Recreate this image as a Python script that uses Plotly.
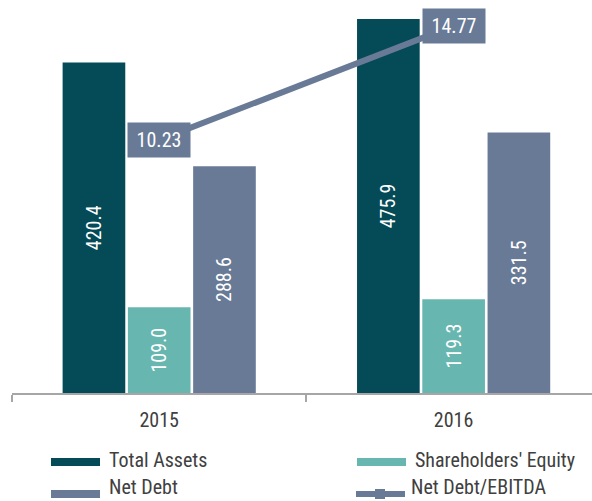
import plotly.graph_objects as go

years = ["2015", "2016"]
total_assets = [420.4, 475.9]
shareholders_equity = [109.0, 119.3]
net_debt = [288.6, 331.5]
net_debt_ebitda = [10.23, 14.77]
legend_labels = ["Total Assets", "Shareholders' Equity", "Net Debt", "Net Debt/EBITDA"]

C_TA = "#054a57"
C_EQ = "#67b6b0"
C_ND = "#687a96"
FONT = "Roboto Condensed, Arial Narrow, sans-serif"
TXT = "#404040"

W, H = 592, 501
L, R, T, B = 12, 0, 0, 108
PW, PH = W - L - R, H - T - B

def px(x):
    return (x - L) / PW

def py(y):
    return (H - B - y) / PH

fig = go.Figure()

def bar(name, vals, color):
    fig.add_trace(go.Bar(
        x=years, y=vals, name=name, marker=dict(color=color, line=dict(width=0)),
        text=[f"{v:.1f}" for v in vals], textposition="inside", textangle=-90,
        insidetextanchor="middle", textfont=dict(color="white", size=20, family=FONT),
        showlegend=False, yaxis="y", hoverinfo="skip"))

bar(legend_labels[0], total_assets, C_TA)
bar(legend_labels[1], shareholders_equity, C_EQ)
bar(legend_labels[2], net_debt, C_ND)

fig.add_trace(go.Scatter(
    x=years, y=net_debt_ebitda, name=legend_labels[3], mode="lines",
    line=dict(color=C_ND, width=6), yaxis="y2", showlegend=False, hoverinfo="skip"))

for i, v in enumerate(net_debt_ebitda):
    fig.add_annotation(x=i, y=v, xref="x", yref="y2", text=f"{v:.2f}",
                       showarrow=False, bgcolor=C_ND, width=60, height=32,
                       font=dict(color="white", size=20, family=FONT))

# manual legend (pixel positions converted to paper coords)
shapes = []
entries = [
    (legend_labels[0], C_TA, 51, 462, 460, "bar"),
    (legend_labels[1], C_EQ, 357, 462, 460, "bar"),
    (legend_labels[2], C_ND, 51, 494, 487, "bar"),
    (legend_labels[3], C_ND, 353, 494, 487, "line"),
]
for name, color, x0, yc, ty, kind in entries:
    if kind == "bar":
        shapes.append(dict(type="rect", xref="paper", yref="paper",
                           x0=px(x0), x1=px(x0 + 49), y0=py(yc - 4), y1=py(yc + 4),
                           fillcolor=color, line=dict(width=0)))
    else:
        shapes.append(dict(type="line", xref="paper", yref="paper",
                           x0=px(x0 + 3), x1=px(x0 + 52), y0=py(yc), y1=py(yc),
                           line=dict(color=color, width=6)))
        shapes.append(dict(type="rect", xref="paper", yref="paper",
                           x0=px(x0 + 22), x1=px(x0 + 32), y0=py(yc - 5), y1=py(yc + 5),
                           fillcolor=color, line=dict(width=0)))
    fig.add_annotation(x=px(x0 + 56), y=py(ty), xref="paper", yref="paper", text=name,
                       showarrow=False, xanchor="left", yanchor="middle",
                       font=dict(size=20, color=TXT, family=FONT))

fig.update_layout(
    width=W, height=H,
    margin=dict(l=L, r=R, t=T, b=B, autoexpand=False),
    paper_bgcolor="white", plot_bgcolor="white",
    barmode="group", bargap=0.335, bargroupgap=0.04,
    font=dict(family=FONT, size=20, color=TXT),
    showlegend=False, hovermode=False,
    shapes=shapes,
    xaxis=dict(type="category", range=[-0.5, 1.47], showline=True, linecolor="#a6a6a6",
               linewidth=1.5, ticks="outside", tickson="boundaries", ticklen=7,
               tickcolor="#a6a6a6", tickwidth=1.5, showgrid=False, ticklabelstandoff=8,
               tickfont=dict(size=20, color=TXT, family=FONT)),
    yaxis=dict(range=[0, 500], visible=False, showgrid=False),
    yaxis2=dict(range=[0.15, 15.8], overlaying="y", visible=False, showgrid=False),
)

fig.write_html("out.html", config={"displayModeBar": False},
               post_script="document.body.style.margin='0';")
